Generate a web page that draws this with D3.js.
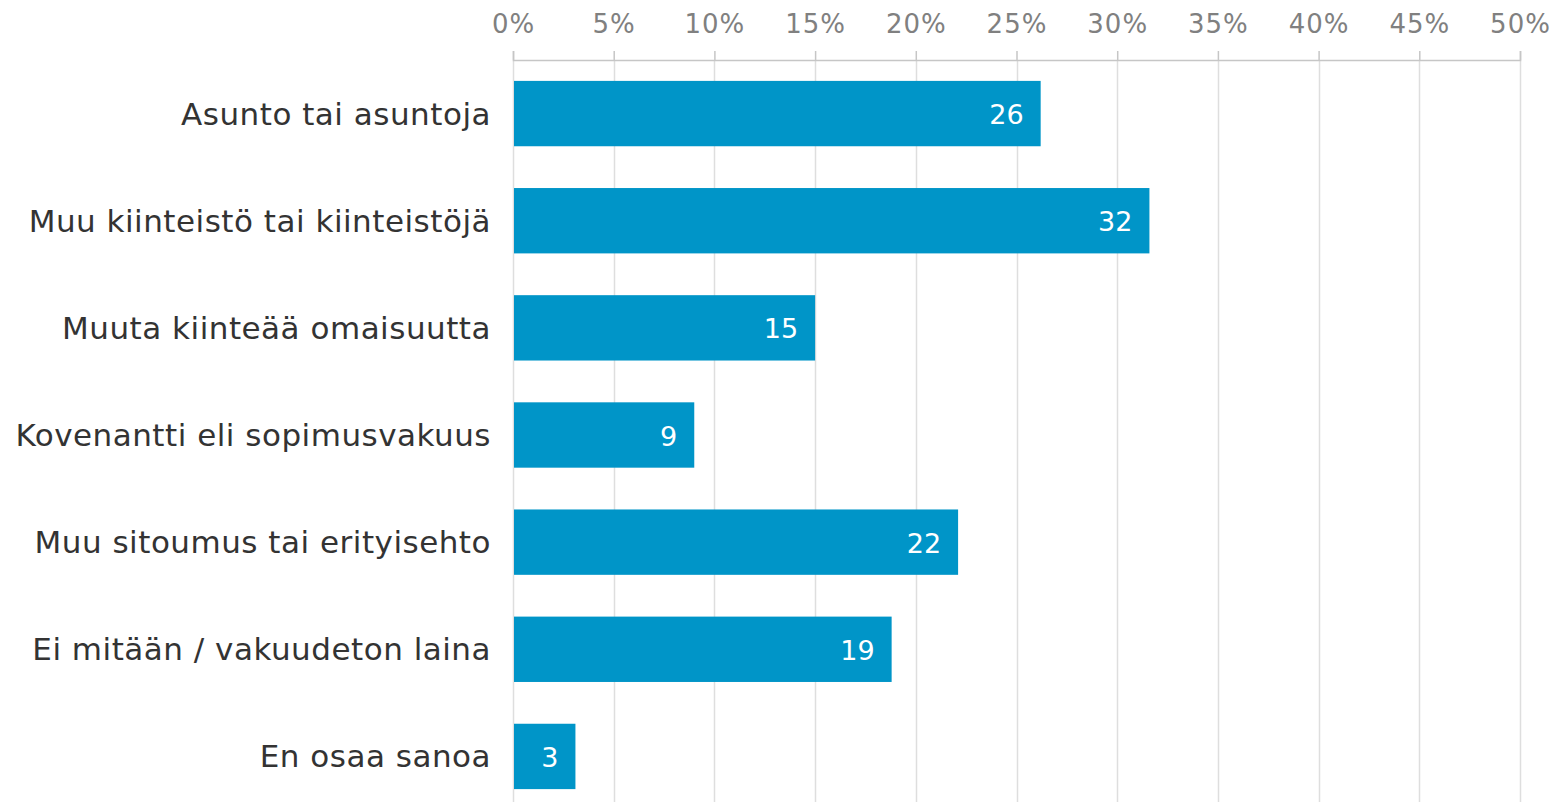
<!DOCTYPE html>
<html>
<head>
<meta charset="utf-8">
<script src="https://cdn.jsdelivr.net/npm/d3@7"></script>
<style>
  body { margin: 0; background: #fff; }
  svg { display: block; font-family: Verdana, "DejaVu Sans", sans-serif; }
</style>
</head>
<body>
<div id="chart"></div>
<script>
// categories and shares (percent)
var categories = [
    "Asunto tai asuntoja",
    "Muu kiinteistö tai kiinteistöjä",
    "Muuta kiinteää omaisuutta",
    "Kovenantti eli sopimusvakuus",
    "Muu sitoumus tai erityisehto",
    "Ei mitään / vakuudeton laina",
    "En osaa sanoa"
]
var values = [26.2, 31.6, 15.0, 9.0, 22.1, 18.8, 3.1]
var tickValues = [0, 5, 10, 15, 20, 25, 30, 35, 40, 45, 50]

var width = 1557,
    height = 802
var margin = { top: 60, left: 513, right: 37 }

var svg = d3.select("#chart")
    .append("svg")
    .attr("width", width)
    .attr("height", height)

var x = d3.scaleLinear()
    .domain([0, 50])
    .range([margin.left, width - margin.right])

var y = d3.scaleBand()
    .domain(categories)
    .range([margin.top, margin.top + 750])
    .paddingInner(0.39)
    .paddingOuter(0.195)

// vertical gridlines
svg.append("g")
    .selectAll("line")
    .data(tickValues)
    .enter()
    .append("line")
    .attr("x1", function (d) { return Math.round(x(d)) + 0.5 })
    .attr("x2", function (d) { return Math.round(x(d)) + 0.5 })
    .attr("y1", margin.top)
    .attr("y2", height)
    .attr("stroke", "#dedede")
    .attr("stroke-width", 1.5)

// top axis
var axis = svg.append("g")
    .attr("transform", "translate(0," + margin.top + ")")
    .call(d3.axisTop(x)
        .tickValues(tickValues)
        .tickSize(9)
        .tickPadding(18)
        .tickFormat(function (d) { return d + "%" }))
axis.select(".domain").attr("stroke", "#c6c6c6").attr("stroke-width", 1.5)
axis.selectAll(".tick line").attr("stroke", "#c6c6c6").attr("stroke-width", 1.5)
axis.selectAll(".tick text")
    .attr("fill", "#808080")
    .style("font-size", "26px")
    .style("letter-spacing", "1px")
    .style("font-family", "Verdana, 'DejaVu Sans', sans-serif")

// bars
svg.selectAll("rect.bar")
    .data(values)
    .enter()
    .append("rect")
    .attr("class", "bar")
    .attr("x", x(0) + 1)
    .attr("y", function (d, i) { return y(categories[i]) })
    .attr("width", function (d) { return x(d) - x(0) - 1 })
    .attr("height", y.bandwidth())
    .attr("fill", "#0095c8")

// value labels inside bar ends
svg.selectAll("text.value")
    .data(values)
    .enter()
    .append("text")
    .attr("class", "value")
    .attr("x", function (d) { return x(d) - 17 })
    .attr("y", function (d, i) { return y(categories[i]) + y.bandwidth() / 2 + 1 })
    .attr("text-anchor", "end")
    .attr("dominant-baseline", "central")
    .attr("fill", "#ffffff")
    .style("font-size", "27px")
    .text(function (d) { return Math.round(d) })

// category labels
svg.selectAll("text.cat")
    .data(categories)
    .enter()
    .append("text")
    .attr("class", "cat")
    .attr("x", margin.left - 22)
    .attr("y", function (d) { return y(d) + y.bandwidth() / 2 })
    .attr("text-anchor", "end")
    .attr("dominant-baseline", "central")
    .attr("fill", "#333333")
    .style("font-size", "31px")
    .style("letter-spacing", "0.5px")
    .text(function (d) { return d })
</script>
</body>
</html>
